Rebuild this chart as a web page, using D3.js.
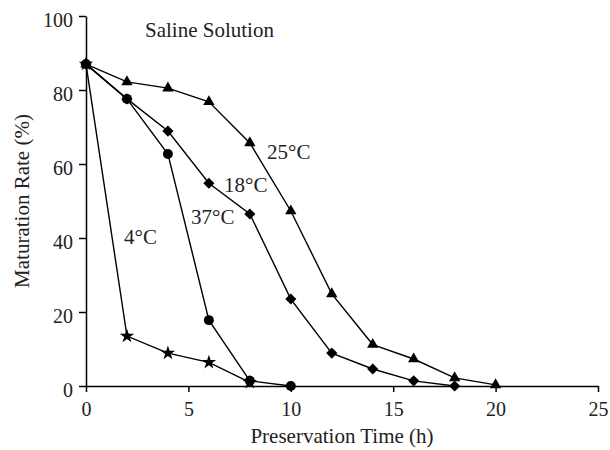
<!DOCTYPE html>
<html>
<head>
<meta charset="utf-8">
<script src="https://cdn.jsdelivr.net/npm/d3@7"></script>
<style>
  body { margin: 0; background: #fff; }
  svg text { font-family: "Liberation Serif", Times, "DejaVu Serif", serif; fill: #222; }
  .axis path, .axis line { stroke: #000; stroke-width: 1.5; }
</style>
</head>
<body>
<script>
// #### DATA ####
var hours = [0, 2, 4, 6, 8, 10, 12, 14, 16, 18, 20];
var rate25 = [87, 82.2, 80.5, 76.8, 65.7, 47.3, 24.9, 11.2, 7.3, 2.2, 0.3];
var rate18 = [87, 77.6, 68.9, 54.8, 46.5, 23.5, 8.9, 4.6, 1.4, 0];
var rate37 = [87, 77.6, 62.7, 17.8, 1.4, 0];
var rate4  = [87, 13.5, 8.9, 6.4, 1.0];
var xTicks = [0, 5, 10, 15, 20, 25];
var yTicks = [0, 20, 40, 60, 80, 100];

var serif = "'Liberation Serif', Times, 'DejaVu Serif', serif";

// draw order: circles last so the shared start point shows a circle
var series = [
  {name: "4°C",  values: rate4,  symbol: d3.symbolStar,     size: 65, rot: 0,  lx: 124, ly: 244},
  {name: "25°C", values: rate25, symbol: d3.symbolTriangle, size: 56, rot: 0,  lx: 267, ly: 159},
  {name: "18°C", values: rate18, symbol: d3.symbolSquare,   size: 62, rot: 45, lx: 224, ly: 192},
  {name: "37°C", values: rate37, symbol: d3.symbolCircle,   size: 78, rot: 0,  lx: 191, ly: 224}
];

// #### layout ####
var width_outer = 610;
var height_outer = 450;
var margin = {top: 16, right: 12, bottom: 64, left: 86};
var width = width_outer - margin.left - margin.right;
var height = height_outer - margin.top - margin.bottom;

var svg = d3.select("body").append("svg")
  .attr("width", width_outer)
  .attr("height", height_outer)
  .attr("font-family", serif);

var g = svg.append("g")
  .attr("transform", "translate(" + margin.left + "," + margin.top + ")");

var x = d3.scaleLinear().domain([0, 25]).range([0, width]);
var y = d3.scaleLinear().domain([0, 100]).range([height, 0]);

// axes
var xAxis = g.append("g")
  .attr("class", "x axis")
  .attr("transform", "translate(0," + height + ")")
  .call(d3.axisBottom(x).tickValues(xTicks).tickSize(6).tickSizeOuter(0));
xAxis.attr("font-family", serif).attr("font-size", null);
xAxis.selectAll("text")
  .attr("y", 30).attr("dy", 0)
  .style("font-family", serif)
  .style("font-size", "20px");

var yAxis = g.append("g")
  .attr("class", "y axis")
  .call(d3.axisLeft(y).tickValues(yTicks).tickSize(7).tickSizeOuter(0));
yAxis.attr("font-family", serif).attr("font-size", null);
yAxis.selectAll("text")
  .attr("x", -13).attr("dy", "0.5em")
  .style("font-family", serif)
  .style("font-size", "20px");

// lines + markers
var line = d3.line()
  .x(function(d, i) { return x(hours[i]); })
  .y(function(d) { return y(d); });

series.forEach(function(s) {
  g.append("path")
    .datum(s.values)
    .attr("fill", "none")
    .attr("stroke", "#000")
    .attr("stroke-width", 1.4)
    .attr("d", line);
});

series.forEach(function(s) {
  var sym = d3.symbol().type(s.symbol).size(s.size);
  g.selectAll(null)
    .data(s.values)
    .enter().append("path")
    .attr("d", sym)
    .attr("fill", "#000")
    .attr("transform", function(d, i) {
      return "translate(" + x(hours[i]) + "," + y(d) + ") rotate(" + s.rot + ")";
    });
});

// text helper
function label(xp, yp, str, anchor) {
  return svg.append("text")
    .attr("x", xp)
    .attr("y", yp)
    .attr("text-anchor", anchor || "start")
    .style("font-family", serif)
    .style("font-size", "21px")
    .text(str);
}

// series labels
series.forEach(function(s) { label(s.lx, s.ly, s.name); });

label(145, 37, "Saline Solution");

// axis titles
label(margin.left + width / 2, 443, "Preservation Time (h)", "middle");

label(0, 0, "Maturation Rate (%)", "middle")
  .attr("transform", "translate(29," + (margin.top + height / 2) + ") rotate(-90)");
</script>
</body>
</html>
